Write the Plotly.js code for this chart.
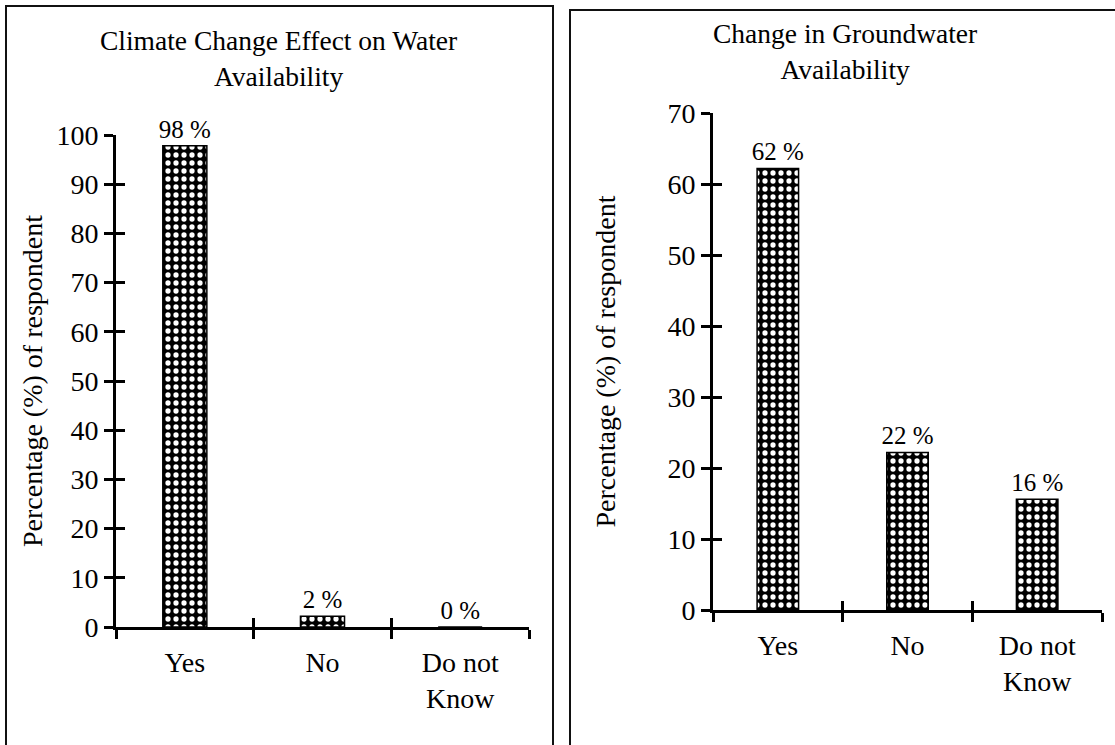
<!DOCTYPE html>
<html>
<head>
<meta charset="utf-8">
<script src="https://cdn.plot.ly/plotly-3.0.1.min.js"></script>
<style>html,body{margin:0;padding:0;background:#fff;}#chart{width:1115px;height:745px;}</style>
</head>
<body>
<div id="chart"></div>
<script>
const categories = ['Yes', 'No', 'Do not<br>Know'];
const waterValues = [97.8, 2.2, 0];
const groundwaterValues = [62.2, 22.2, 15.6];
const titleLeft = 'Climate Change Effect on Water<br>Availability';
const titleRight = 'Change in Groundwater<br>Availability';
const yTitle = 'Percentage (%) of respondent';

const FONT = 'Liberation Serif';
const W = 1115, H = 745;
const px = v => v / W;
const py = v => 1 - v / H;

const pattern = {shape: '.', fgcolor: '#fff', bgcolor: '#000', size: 8, solidity: 0.34, fillmode: 'replace'};

function barTrace(vals, xa, ya) {
  return {
    type: 'bar', x: categories, y: vals, xaxis: xa, yaxis: ya,
    width: 0.32,
    marker: {color: '#000', line: {color: '#000', width: 1.5}, pattern: pattern},
    text: vals.map(v => Math.round(v) + ' %'),
    textposition: 'outside', cliponaxis: false, constraintext: 'none',
    textfont: {family: FONT, size: 25, color: '#000'},
    hoverinfo: 'skip', showlegend: false
  };
}
function tickHelper(xa, ya) {
  return {type: 'scatter', mode: 'markers', x: [], y: [], xaxis: xa, yaxis: ya,
          hoverinfo: 'skip', showlegend: false};
}

const traces = [
  barTrace(waterValues, 'x', 'y'),
  barTrace(groundwaterValues, 'x2', 'y2'),
  tickHelper('x3', 'y3'),
  tickHelper('x4', 'y4')
];

const xBase = {
  type: 'category', showline: true, linewidth: 3, linecolor: '#000',
  ticks: 'outside', ticklen: 9, tickwidth: 3, tickcolor: '#000', tickson: 'boundaries',
  showgrid: false, zeroline: false, fixedrange: true,
  tickfont: {family: FONT, size: 28, color: '#000'}, ticklabelstandoff: 8
};
const yBase = {
  showline: true, linewidth: 3, linecolor: '#000',
  ticks: 'outside', ticklen: 9, tickwidth: 3, tickcolor: '#000',
  showgrid: false, zeroline: false, fixedrange: true,
  tickfont: {family: FONT, size: 28, color: '#000'},
  title: {text: yTitle, font: {family: FONT, size: 28, color: '#000'}}
};
const inBase = {showline: false, ticks: 'inside', ticklen: 9, tickwidth: 3, tickcolor: '#000',
  showticklabels: false, showgrid: false, zeroline: false, fixedrange: true};

const layout = {
  width: W, height: H,
  margin: {l: 0, r: 0, t: 0, b: 0},
  paper_bgcolor: '#fff', plot_bgcolor: 'rgba(0,0,0,0)',
  font: {family: FONT, color: '#000'},
  xaxis: Object.assign({}, xBase, {domain: [px(116), px(529)], anchor: 'y'}),
  yaxis: Object.assign({}, yBase, {domain: [py(627), py(135)], anchor: 'x', range: [0, 100], dtick: 10,
    title: Object.assign({}, yBase.title, {standoff: 6})}),
  xaxis2: Object.assign({}, xBase, {domain: [px(713), px(1102)], anchor: 'y2'}),
  yaxis2: Object.assign({}, yBase, {domain: [py(610), py(113)], anchor: 'x2', range: [0, 70], dtick: 10,
    title: Object.assign({}, yBase.title, {standoff: 44})}),
  xaxis3: Object.assign({}, inBase, {overlaying: 'x', anchor: 'y3', range: [-0.5, 2.5], tickvals: [-0.5, 0.5, 1.5, 2.5]}),
  yaxis3: Object.assign({}, inBase, {overlaying: 'y', anchor: 'x3', range: [0, 100], dtick: 10}),
  xaxis4: Object.assign({}, inBase, {overlaying: 'x2', anchor: 'y4', range: [-0.5, 2.5], tickvals: [-0.5, 0.5, 1.5, 2.5]}),
  yaxis4: Object.assign({}, inBase, {overlaying: 'y2', anchor: 'x4', range: [0, 70], dtick: 10}),
  annotations: [
    {text: titleLeft, xref: 'paper', yref: 'paper', x: px(278), y: py(58), xanchor: 'center', yanchor: 'middle',
     showarrow: false, font: {family: FONT, size: 27.5, color: '#000'}},
    {text: titleRight, xref: 'paper', yref: 'paper', x: px(845), y: py(52), xanchor: 'center', yanchor: 'middle',
     showarrow: false, font: {family: FONT, size: 27.5, color: '#000'}}
  ],
  shapes: [
    {type: 'rect', xref: 'paper', yref: 'paper', x0: px(6), x1: px(553), y0: py(760), y1: py(6),
     line: {color: '#111', width: 2}, fillcolor: 'rgba(0,0,0,0)'},
    {type: 'rect', xref: 'paper', yref: 'paper', x0: px(570), x1: px(1130), y0: py(760), y1: py(10),
     line: {color: '#111', width: 2}, fillcolor: 'rgba(0,0,0,0)'}
  ]
};

Plotly.newPlot('chart', traces, layout, {displayModeBar: false, staticPlot: true});
</script>
</body>
</html>
